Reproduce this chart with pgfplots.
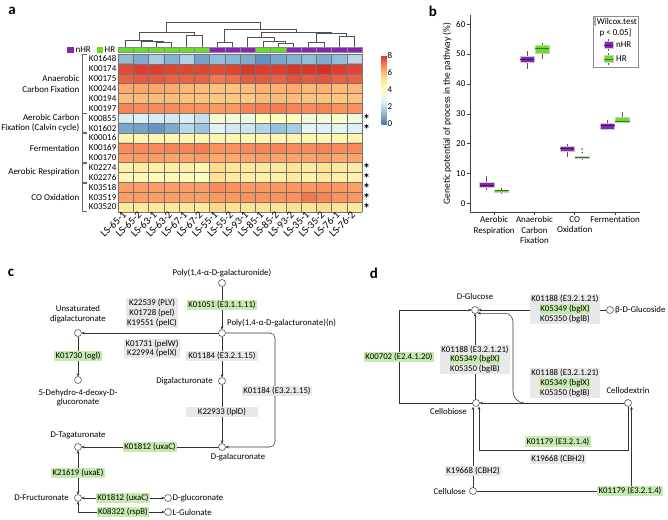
\documentclass[border=0pt]{standalone}
\usepackage{fontspec}
\setmainfont{Carlito}
\usepackage{pgfplots}
\pgfplotsset{compat=1.18}
\usepgfplotslibrary{statistics}
\usetikzlibrary{arrows.meta}
\pgfplotsset{/pgf/number format/assume math mode=true}
\definecolor{hrg}{RGB}{104,222,36}
\definecolor{nhrp}{RGB}{138,36,178}
\definecolor{hrgd}{RGB}{50,120,20}
\definecolor{nhrpd}{RGB}{75,15,100}
\definecolor{boxg}{RGB}{232,232,232}
\definecolor{boxgr}{RGB}{198,234,176}
\definecolor{ln}{RGB}{80,80,80}
\newcommand\lab{\fontsize{9}{10.5}\selectfont}
\newcommand\clab{\fontsize{10.5}{11}\selectfont}
\newcommand\dfont{\fontsize{8.8}{9.6}\selectfont}
\setlength{\fboxsep}{0.6bp}
\begin{document}
\begin{tikzpicture}
\useasboundingbox (0,0) rectangle (668bp,-520bp);
% ---------------- dendrogram ----------------
\begin{axis}[at={(118bp,-47.3bp)}, anchor=south west, scale only axis,
  width=244bp, height=27bp, xmin=0.5, xmax=16.5, ymin=0, ymax=27,
  hide axis, clip=false]
\addplot[ln, line width=0.7bp, unbounded coords=jump] coordinates {
 (3,0) (3,4.7) (4,4.7) (4,0) (nan,nan)
 (2,0) (2,6) (3.5,6) (3.5,4.7) (nan,nan)
 (1,0) (1,7) (2.75,7) (2.75,6) (nan,nan)
 (5,0) (5,12) (6,12) (6,0) (nan,nan)
 (1.875,7) (1.875,15) (5.5,15) (5.5,12) (nan,nan)
 (7,0) (7,5) (8,5) (8,0) (nan,nan)
 (11,0) (11,4.3) (12,4.3) (12,0) (nan,nan)
 (10,0) (10,6) (11.5,6) (11.5,4.3) (nan,nan)
 (9,0) (9,10.3) (10.75,10.3) (10.75,6) (nan,nan)
 (13,0) (13,5.3) (14,5.3) (14,0) (nan,nan)
 (15,0) (15,11.3) (16,11.3) (16,0) (nan,nan)
 (13.5,5.3) (13.5,13.5) (15.5,13.5) (15.5,11.3) (nan,nan)
 (9.875,10.3) (9.875,14.7) (14.5,14.7) (14.5,13.5) (nan,nan)
 (7.5,5) (7.5,18.3) (12.1875,18.3) (12.1875,14.7) (nan,nan)
 (3.6875,15) (3.6875,25.3) (9.84375,25.3) (9.84375,18.3)
};
\end{axis}
% ---------------- heatmap ----------------
\begin{axis}[at={(118bp,-212bp)}, anchor=south west, scale only axis,
  width=244bp, height=158bp, xmin=0.5, xmax=16.5, ymin=0.5, ymax=16.5,
  y dir=reverse, enlargelimits=false, clip=false, axis on top,
  colormap={pheat}{rgb255=(69,117,180) rgb255=(145,191,219) rgb255=(224,243,248) rgb255=(255,255,191) rgb255=(254,224,144) rgb255=(252,141,89) rgb255=(215,48,39)},
  point meta min=0, point meta max=8,
  xtick={1,...,16},
  xticklabels={LS-65-1,LS-65-2,LS-63-1,LS-63-2,LS-67-1,LS-67-2,LS-55-1,LS-55-2,LS-93-1,LS-85-1,LS-85-2,LS-93-2,LS-35-1,LS-35-2,LS-76-1,LS-76-2},
  ytick={1,...,16},
  yticklabels={K01648,K00174,K00175,K00244,K00194,K00197,K00855,K01602,K00016,K00169,K00170,K02274,K02276,K03518,K03519,K03520},
  xticklabel style={rotate=45, anchor=east, font=\clab, inner sep=1.5bp},
  yticklabel style={anchor=east, font=\lab, inner sep=1.5bp},
  major tick length=0, minor tick length=0,
  minor xtick={0.5,1.5,...,16.5}, minor ytick={0.5,1.5,...,16.5},
  xminorgrids=true, yminorgrids=true,
  minor grid style={draw=black!55, line width=0.45bp},
  axis line style={draw=none},
  colorbar,
  colorbar style={at={(parent axis.north east)}, anchor=north west, xshift=11bp, yshift=-1bp,
    scale only axis, width=5bp, height=69bp, y dir=normal,
    ytick={0,2,4,6,8}, yticklabel style={font=\lab, inner sep=1bp},
    major tick length=0, axis line style={draw=none}, yticklabel pos=right}
]
\addplot[matrix plot*, mesh/cols=16, mesh/ordering=x varies, point meta=explicit]
 table[x=x, y=y, meta=c, row sep=\\] {
x y c\\
1 1 1.3\\ 2 1 1.0\\ 3 1 1.7\\ 4 1 1.1\\ 5 1 1.8\\ 6 1 0.8\\ 7 1 1.3\\ 8 1 1.2\\ 9 1 1.0\\ 10 1 0.5\\ 11 1 0.9\\ 12 1 1.1\\ 13 1 1.3\\ 14 1 1.0\\ 15 1 1.3\\ 16 1 2.0\\
1 2 7.6\\ 2 2 7.8\\ 3 2 7.8\\ 4 2 7.7\\ 5 2 7.7\\ 6 2 7.7\\ 7 2 7.6\\ 8 2 7.7\\ 9 2 7.9\\ 10 2 7.8\\ 11 2 7.8\\ 12 2 7.9\\ 13 2 7.9\\ 14 2 8.0\\ 15 2 7.8\\ 16 2 7.7\\
1 3 7.3\\ 2 3 7.4\\ 3 3 7.4\\ 4 3 7.3\\ 5 3 7.3\\ 6 3 7.3\\ 7 3 7.0\\ 8 3 7.1\\ 9 3 7.4\\ 10 3 7.4\\ 11 3 7.3\\ 12 3 7.5\\ 13 3 7.4\\ 14 3 7.5\\ 15 3 7.3\\ 16 3 7.3\\
1 4 6.2\\ 2 4 6.3\\ 3 4 6.3\\ 4 4 6.2\\ 5 4 6.0\\ 6 4 5.9\\ 7 4 5.8\\ 8 4 5.8\\ 9 4 5.9\\ 10 4 6.1\\ 11 4 6.1\\ 12 4 6.2\\ 13 4 6.0\\ 14 4 6.1\\ 15 4 5.9\\ 16 4 6.0\\
1 5 5.9\\ 2 5 5.9\\ 3 5 5.9\\ 4 5 5.9\\ 5 5 5.8\\ 6 5 5.8\\ 7 5 5.7\\ 8 5 5.7\\ 9 5 5.7\\ 10 5 5.9\\ 11 5 5.9\\ 12 5 5.9\\ 13 5 5.8\\ 14 5 5.8\\ 15 5 5.7\\ 16 5 5.8\\
1 6 6.8\\ 2 6 6.7\\ 3 6 6.7\\ 4 6 6.7\\ 5 6 6.6\\ 6 6 6.6\\ 7 6 6.5\\ 8 6 6.5\\ 9 6 6.8\\ 10 6 6.9\\ 11 6 6.9\\ 12 6 6.8\\ 13 6 6.7\\ 14 6 6.8\\ 15 6 6.6\\ 16 6 6.6\\
1 7 2.5\\ 2 7 2.6\\ 3 7 2.5\\ 4 7 2.4\\ 5 7 2.6\\ 6 7 2.2\\ 7 7 3.7\\ 8 7 3.4\\ 9 7 3.2\\ 10 7 4.0\\ 11 7 4.0\\ 12 7 4.1\\ 13 7 3.4\\ 14 7 3.5\\ 15 7 3.8\\ 16 7 3.4\\
1 8 0.9\\ 2 8 0.8\\ 3 8 0.6\\ 4 8 1.0\\ 5 8 2.0\\ 6 8 1.5\\ 7 8 2.7\\ 8 8 2.4\\ 9 8 2.3\\ 10 8 1.9\\ 11 8 1.4\\ 12 8 1.7\\ 13 8 2.8\\ 14 8 2.6\\ 15 8 2.9\\ 16 8 2.6\\
1 9 4.4\\ 2 9 4.4\\ 3 9 4.4\\ 4 9 4.4\\ 5 9 4.4\\ 6 9 4.4\\ 7 9 4.5\\ 8 9 4.4\\ 9 9 4.4\\ 10 9 4.4\\ 11 9 4.4\\ 12 9 4.5\\ 13 9 4.4\\ 14 9 4.4\\ 15 9 4.4\\ 16 9 4.4\\
1 10 6.7\\ 2 10 6.7\\ 3 10 6.7\\ 4 10 6.8\\ 5 10 6.8\\ 6 10 6.9\\ 7 10 6.6\\ 8 10 6.6\\ 9 10 6.7\\ 10 10 6.8\\ 11 10 6.8\\ 12 10 6.7\\ 13 10 6.7\\ 14 10 6.8\\ 15 10 6.7\\ 16 10 6.7\\
1 11 6.4\\ 2 11 6.4\\ 3 11 6.4\\ 4 11 6.3\\ 5 11 6.3\\ 6 11 6.4\\ 7 11 6.2\\ 8 11 6.2\\ 9 11 6.3\\ 10 11 6.4\\ 11 11 6.3\\ 12 11 6.3\\ 13 11 6.3\\ 14 11 6.4\\ 15 11 6.2\\ 16 11 6.3\\
1 12 4.7\\ 2 12 4.8\\ 3 12 4.7\\ 4 12 4.8\\ 5 12 4.7\\ 6 12 4.4\\ 7 12 5.4\\ 8 12 5.1\\ 9 12 5.0\\ 10 12 5.0\\ 11 12 5.0\\ 12 12 5.1\\ 13 12 4.9\\ 14 12 5.3\\ 15 12 5.0\\ 16 12 4.8\\
1 13 4.3\\ 2 13 4.3\\ 3 13 4.2\\ 4 13 4.3\\ 5 13 4.2\\ 6 13 4.0\\ 7 13 5.2\\ 8 13 4.9\\ 9 13 4.8\\ 10 13 4.7\\ 11 13 4.7\\ 12 13 4.9\\ 13 13 4.6\\ 14 13 5.0\\ 15 13 4.7\\ 16 13 4.6\\
1 14 6.4\\ 2 14 6.4\\ 3 14 6.4\\ 4 14 6.4\\ 5 14 6.4\\ 6 14 6.4\\ 7 14 6.7\\ 8 14 6.6\\ 9 14 6.5\\ 10 14 6.5\\ 11 14 6.5\\ 12 14 6.5\\ 13 14 6.5\\ 14 14 6.6\\ 15 14 6.5\\ 16 14 6.4\\
1 15 6.4\\ 2 15 6.4\\ 3 15 6.4\\ 4 15 6.4\\ 5 15 6.4\\ 6 15 6.4\\ 7 15 6.5\\ 8 15 6.5\\ 9 15 6.6\\ 10 15 6.6\\ 11 15 6.6\\ 12 15 6.6\\ 13 15 7.0\\ 14 15 6.8\\ 15 15 6.6\\ 16 15 6.5\\
1 16 5.0\\ 2 16 5.0\\ 3 16 5.0\\ 4 16 5.0\\ 5 16 5.0\\ 6 16 4.9\\ 7 16 5.5\\ 8 16 5.3\\ 9 16 5.2\\ 10 16 5.2\\ 11 16 5.2\\ 12 16 5.3\\ 13 16 5.2\\ 14 16 5.4\\ 15 16 5.2\\ 16 16 5.0\\
};
% group annotation bar
\fill[hrg] (axis cs:0.5,-0.18) rectangle (axis cs:6.5,0.3);
\fill[nhrp] (axis cs:6.5,-0.18) rectangle (axis cs:9.5,0.3);
\fill[hrg] (axis cs:9.5,-0.18) rectangle (axis cs:11.5,0.3);
\fill[nhrp] (axis cs:11.5,-0.18) rectangle (axis cs:16.5,0.3);
\pgfplotsinvokeforeach{0.5,1.5,...,16.5}{\draw[black!45, line width=0.35bp] (axis cs:#1,-0.18) -- (axis cs:#1,0.3);}
\draw[black!45, line width=0.35bp] (axis cs:0.5,-0.18) rectangle (axis cs:16.5,0.3);
\end{axis}
% ---------------- panel b ----------------
\begin{axis}[at={(470bp,-212bp)}, anchor=south west, scale only axis,
  width=170bp, height=197bp, xmin=0.4, xmax=4.62, ymin=-2.9, ymax=63.1,
  axis lines*=left, axis line style={black!75, line width=0.6bp},
  xtick={1,2,3,4},
  xticklabels={{Aerobic\\Respiration},{Anaerobic\\Carbon\\Fixation},{CO\\Oxidation},{Fermentation}},
  xticklabel style={align=center, font=\lab, inner sep=1.5bp},
  yticklabel style={font=\lab, inner sep=1.5bp},
  ytick={0,10,...,60}, tick align=outside, major tick length=3bp,
  tick style={black!75, line width=0.6bp},
  ylabel={Genetic potential of process in the pathway (\%)},
  ylabel style={font=\fontsize{9.5}{11}\selectfont, at={(axis description cs:-0.135,0.5)}, anchor=center},
  boxplot/draw direction=y, boxplot/box extend=0.35, boxplot/whisker extend=0,
  boxplot/every whisker/.style={draw=black!65, line width=0.6bp},
]
\addplot[fill=nhrp, draw=black!20, boxplot/every median/.style={draw=nhrpd, line width=0.8bp},
  boxplot prepared={lower whisker=4.5, lower quartile=5.3, median=6.0, upper quartile=7.2, upper whisker=9.2, draw position=0.815}] coordinates {};
\addplot[fill=hrg, draw=black!20, boxplot/every median/.style={draw=hrgd, line width=0.8bp},
  boxplot prepared={lower whisker=3.2, lower quartile=3.8, median=4.2, upper quartile=4.5, upper whisker=5.0, draw position=1.185}] coordinates {};
\addplot[fill=nhrp, draw=black!20, boxplot/every median/.style={draw=nhrpd, line width=0.8bp},
  boxplot prepared={lower whisker=45, lower quartile=47.2, median=48.3, upper quartile=49.3, upper whisker=51, draw position=1.815}] coordinates {};
\addplot[fill=hrg, draw=black!20, boxplot/every median/.style={draw=hrgd, line width=0.8bp},
  boxplot prepared={lower whisker=48.5, lower quartile=50.3, median=52, upper quartile=53, upper whisker=53.6, draw position=2.185}] coordinates {};
\addplot[fill=nhrp, draw=black!20, boxplot/every median/.style={draw=nhrpd, line width=0.8bp},
  boxplot prepared={lower whisker=15.5, lower quartile=17.5, median=18.5, upper quartile=19.3, upper whisker=20, draw position=2.815}] coordinates {};
\addplot[fill=hrg, draw=black!20, boxplot/every median/.style={draw=hrgd, line width=0.8bp},
  boxplot prepared={lower whisker=14.5, lower quartile=15.2, median=15.5, upper quartile=15.9, upper whisker=16.0, draw position=3.185}] coordinates {};
\addplot[only marks, mark=*, mark size=0.5bp, black!70] coordinates {(3.185,18.2) (3.185,17.1)};
\addplot[fill=nhrp, draw=black!20, boxplot/every median/.style={draw=nhrpd, line width=0.8bp},
  boxplot prepared={lower whisker=24.5, lower quartile=25.0, median=26.0, upper quartile=26.8, upper whisker=27.8, draw position=3.815}] coordinates {};
\addplot[fill=hrg, draw=black!20, boxplot/every median/.style={draw=hrgd, line width=0.8bp},
  boxplot prepared={lower whisker=26.8, lower quartile=27.2, median=27.6, upper quartile=28.7, upper whisker=30.5, draw position=4.185}] coordinates {};
\end{axis}
% ---------------- annotations & diagrams ----------------
\begin{scope}[x=1bp, y=-1bp,
  met/.style={circle, draw=black!70, fill=white, inner sep=0pt, minimum size=7bp, line width=0.55bp},
  gbox/.style={fill=boxg, inner sep=1.3bp, font=\dfont, align=center},
  grbox/.style={fill=boxgr, inner sep=1.3bp, font=\dfont, align=center},
  ar/.style={draw=black!80, line width=0.55bp, -{Stealth[length=3.2bp, width=2.8bp]}},
  ab/.style={draw=black!80, line width=0.55bp, {Stealth[length=3.2bp, width=2.8bp]}-{Stealth[length=3.2bp, width=2.8bp]}},
  tx/.style={font=\dfont, inner sep=1bp}]
% panel letters
\node[font=\fontsize{15}{15}\selectfont\bfseries] at (12,11) {a};
\node[font=\fontsize{15}{15}\selectfont\bfseries] at (433,11) {b};
\node[font=\fontsize{15}{15}\selectfont\bfseries] at (11,273) {c};
\node[font=\fontsize{15}{15}\selectfont\bfseries] at (374,273) {d};
% heatmap group legend
\fill[nhrp] (67,46.5) rectangle (73.5,52.5);
\node[anchor=west, font=\lab, inner sep=1bp] at (74.5,49.5) {nHR};
\fill[hrg] (96.5,46.5) rectangle (102.5,52.5);
\node[anchor=west, font=\lab, inner sep=1bp] at (103.5,49.5) {HR};
% group labels and brackets
\node[anchor=east, align=right, font=\lab, inner sep=1bp] at (80.5,84) {Anaerobic\\Carbon Fixation};
\node[anchor=east, align=right, font=\lab, inner sep=1bp] at (80.5,123) {Aerobic Carbon\\Fixation (Calvin cycle)};
\node[anchor=east, font=\lab, inner sep=1bp] at (80.5,148) {Fermentation};
\node[anchor=east, font=\lab, inner sep=1bp] at (80.5,172.5) {Aerobic Respiration};
\node[anchor=east, font=\lab, inner sep=1bp] at (80.5,197) {CO Oxidation};
\foreach \a/\b in {54.5/112.8, 113.7/132.6, 133.4/162.1, 163/181.9, 182.8/211.5}
  \draw[black!60, line width=0.6bp] (87,\a) -- (82.5,\a) -- (82.5,\b) -- (87,\b);
% stars
\foreach \y in {118.2,128.1,167.6,177.5,187.4,197.3,207.1}
  \node[font=\fontsize{14}{14}\selectfont\bfseries, anchor=base, inner sep=0pt] at (366.5,\y+6.3) {*};
% panel b legend
\draw[black!45, line width=0.5bp] (593,16) rectangle (638,67);
\node[font=\lab, inner sep=0pt] at (615.5,22) {[Wilcox.test};
\node[font=\lab, inner sep=0pt] at (615.5,33) {p < 0.05]};
\draw[black!65, line width=0.5bp] (608.5,39) -- (608.5,51);
\filldraw[fill=nhrp, draw=black!20] (604,41.5) rectangle (613,48.5);
\draw[nhrpd, line width=0.8bp] (604,45) -- (613,45);
\node[anchor=west, font=\lab, inner sep=0pt] at (616,45) {nHR};
\draw[black!65, line width=0.5bp] (608.5,53) -- (608.5,65);
\filldraw[fill=hrg, draw=black!20] (604,55.5) rectangle (613,62.5);
\draw[hrgd, line width=0.8bp] (604,59) -- (613,59);
\node[anchor=west, font=\lab, inner sep=0pt] at (616,59) {HR};
% ---------- panel c ----------
\draw[ar] (222,286.5) -- (222,329.5);
\draw[ar] (218.5,333) -- (81.5,333);
\draw[ar] (78,336.5) -- (78,376.5);
\draw[ar] (222,336.5) -- (222,377.5);
\draw[ar] (222,384.5) -- (222,443.5);
\draw[ar, rounded corners=5bp] (225.5,333) -- (275,333) -- (275,447) -- (225.5,447);
\draw[ar] (218.5,447) -- (81.5,447);
\draw[ab] (78,450.5) -- (78,494.5);
\draw[ab] (81.5,498) -- (164.5,498);
\draw[ab] (78,501.5) -- (78,512) -- (164.5,512);
\node[grbox] at (222,305) {K01051 (E3.1.1.11)};
\node[gbox] at (152,313) {K22539 (PLY)\\K01728 (pel)\\K19551 (pelC)};
\node[gbox] at (152,348.5) {K01731 (pelW)\\K22994 (pelX)};
\node[grbox] at (78,356) {K01730 (ogl)};
\node[gbox, minimum width=71bp] at (222,356) {K01184 (E3.2.1.15)};
\node[gbox, minimum width=71bp] at (222,412) {K22933 (lplD)};
\node[gbox] at (277,391) {K01184 (E3.2.1.15)};
\node[grbox] at (150,447) {K01812 (uxaC)};
\node[grbox] at (78,473) {K21619 (uxaE)};
\node[grbox] at (123,498) {K01812 (uxaC)};
\node[grbox] at (123,512) {K08322 (rspB)};
\foreach \p in {(222,283),(222,333),(78,333),(78,380),(222,381),(222,447),(78,447),(78,498),(168,498),(168,512)}
  \node[met] at \p {};
\node[tx] at (222,273) {Poly(1,4-α-D-galacturonide)};
\node[tx, anchor=west] at (226,323) {Poly(1,4-α-D-galacturonate)(n)};
\node[tx, align=center] at (78,314) {Unsaturated\\digalacturonate};
\node[tx, align=center] at (78,397.5) {5-Dehydro-4-deoxy-D-\\glucoronate};
\node[tx, anchor=east] at (214,381) {Digalacturonate};
\node[tx] at (238,457) {D-galacuronate};
\node[tx] at (78,435) {D-Tagaturonate};
\node[tx, anchor=east] at (70,498) {D-Fructuronate};
\node[tx, anchor=west] at (171.5,498) {D-glucoronate};
\node[tx, anchor=west] at (171.5,512) {L-Gulonate};
% ---------- panel d ----------
\draw[ar] (606.5,310) -- (478.5,310);
\draw[ar] (475,399.5) -- (475,313.5);
\draw[ar] (472.5,403) -- (399,403) -- (399,310) -- (471.5,310);
\draw[ar] (624.5,403) -- (479.5,403);
\draw[ar] (524,403) to[out=180,in=-90] (513,391) -- (513,322) to[out=90,in=0] (505,313.3) -- (477.5,313.3);
\draw[ar] (628,406.5) -- (628,450) -- (479,450) -- (479,406.5);
\draw[ar] (473,487.5) -- (473,406.8);
\draw[ar] (476.5,491) -- (631.5,491) -- (631.5,406.5);
\node[gbox] at (565,309) {K01188 (E3.2.1.21)\\\colorbox{boxgr}{K05349 (bglX)}\\K05350 (bglB)};
\node[grbox] at (399,357) {K00702 (E2.4.1.20)};
\node[gbox] at (475,359.5) {K01188 (E3.2.1.21)\\\colorbox{boxgr}{K05349 (bglX)}\\K05350 (bglB)};
\node[gbox] at (565,383) {K01188 (E3.2.1.21)\\\colorbox{boxgr}{K05349 (bglX)}\\K05350 (bglB)};
\node[grbox] at (558,441.5) {K01179 (E3.2.1.4)};
\node[gbox] at (558,459) {K19668 (CBH2)};
\node[gbox] at (473,471) {K19668 (CBH2)};
\node[grbox] at (630,491) {K01179 (E3.2.1.4)};
\foreach \p in {(475,310),(610,310),(476,403),(628,403),(473,491)}
  \node[met] at \p {};
\node[tx] at (475,296) {D-Glucose};
\node[tx, anchor=west] at (614,310) {β-D-Glucoside};
\node[tx, anchor=east] at (468,411) {Cellobiose};
\node[tx] at (628,390) {Cellodextrin};
\node[tx, anchor=east] at (467,491) {Cellulose};
\end{scope}
\end{tikzpicture}
\end{document}
